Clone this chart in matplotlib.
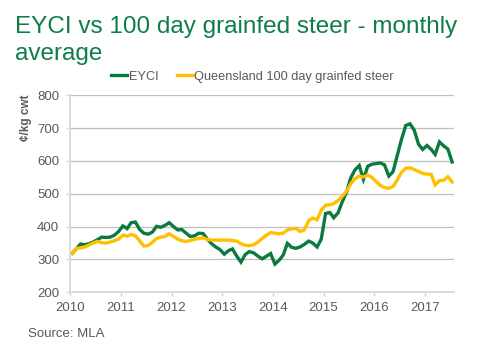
import matplotlib
matplotlib.use("Agg")
import matplotlib.pyplot as plt
import matplotlib.dates as mdates
import pandas as pd

plt.rcParams['font.family'] = ['Liberation Sans', 'DejaVu Sans']

# Monthly averages, Jan 2010 - Jul 2017 (c/kg cwt)
months = pd.date_range('2010-01-01', '2017-07-01', freq='MS')

eyci = [
    319, 333, 347, 345, 348, 353, 360, 368, 367, 368, 374, 385,   # 2010
    402, 394, 412, 414, 392, 380, 377, 383, 401, 398, 404, 412,   # 2011
    400, 390, 391, 380, 370, 372, 380, 379, 362, 348, 338, 330,   # 2012
    316, 327, 332, 310, 292, 315, 324, 320, 310, 302, 310, 318,   # 2013
    286, 298, 313, 349, 337, 334, 338, 346, 356, 350, 338, 362,   # 2014
    440, 443, 427, 442, 475, 505, 548, 573, 586, 544, 584, 590,   # 2015
    592, 594, 588, 554, 567, 617, 665, 708, 713, 694, 651, 635,   # 2016
    647, 635, 620, 658, 646, 636, 597,                            # 2017
]

qld_grainfed = [
    318, 334, 335, 338, 344, 350, 355, 351, 350, 353, 357, 362,   # 2010
    374, 371, 376, 372, 357, 341, 342, 352, 364, 368, 370, 378,   # 2011
    370, 362, 357, 355, 358, 361, 364, 366, 361, 359, 359, 359,   # 2012
    359, 359, 358, 356, 348, 343, 342, 345, 353, 364, 374, 382,   # 2013
    380, 378, 380, 390, 393, 395, 385, 390, 418, 426, 421, 450,   # 2014
    465, 467, 470, 480, 492, 508, 530, 546, 554, 551, 557, 550,   # 2015
    537, 525, 519, 517, 522, 542, 565, 578, 579, 574, 568, 562,   # 2016
    560, 559, 527, 540, 541, 552, 536,                            # 2017
]

series_names = ['EYCI', 'Queensland 100 day grainfed steer']
series_colors = ['#0B7A3E', '#FFC000']

# monthly values plotted at mid-month
x = months + pd.Timedelta(days=14)

W, H = 500, 349
fig = plt.figure(figsize=(W / 100, H / 100), dpi=100)
ax = fig.add_axes([70.3 / W, 1 - 292.3 / H, (454.3 - 70.3) / W, (292.3 - 95.3) / H])

for vals, name, col in zip([eyci, qld_grainfed], series_names, series_colors):
    ax.plot(x, vals, color=col, lw=2.4, label=name, solid_joinstyle='miter')

ax.set_ylim(200, 800)
ax.set_yticks(range(200, 801, 100))
ax.set_xlim(pd.Timestamp('2010-01-01'), pd.Timestamp('2017-07-31'))
ax.xaxis.set_major_locator(mdates.YearLocator())
ax.xaxis.set_major_formatter(mdates.DateFormatter('%Y'))

ax.grid(axis='y', color='#BFBFBF', lw=0.9)
ax.set_axisbelow(True)
for s in ['top', 'right']:
    ax.spines[s].set_visible(False)
for s in ['left', 'bottom']:
    ax.spines[s].set_color('#D9D9D9')
    ax.spines[s].set_linewidth(1.3)

ax.tick_params(axis='both', colors='#D9D9D9', labelcolor='#595959',
               labelsize=9.5, length=3, width=1)
ax.tick_params(axis='y', pad=5)
ax.tick_params(axis='x', pad=4)

ax.legend(loc='center', bbox_to_anchor=(252.4 / W, 1 - 76.7 / H),
          bbox_transform=fig.transFigure, ncol=2, frameon=False,
          fontsize=9.2, labelcolor='#595959', handlelength=1.25,
          handletextpad=0.1, columnspacing=1.45, borderpad=0)

fig.text(15 / W, 1 - 32.7 / H, 'EYCI vs 100 day grainfed steer - monthly',
         fontsize=17.5, color='#0E7E48', va='baseline', ha='left')
fig.text(15 / W, 1 - 60 / H, 'average',
         fontsize=17.5, color='#0E7E48', va='baseline', ha='left')

fig.text(26 / W, 1 - 118 / H, '¢/kg cwt', rotation=90, fontsize=8.5,
         fontweight='bold', color='#595959', ha='center', va='center')

fig.text(28 / W, 1 - 336.7 / H, 'Source: MLA', fontsize=9.5,
         color='#595959', va='baseline', ha='left')

fig.savefig('out.png', dpi=100)
